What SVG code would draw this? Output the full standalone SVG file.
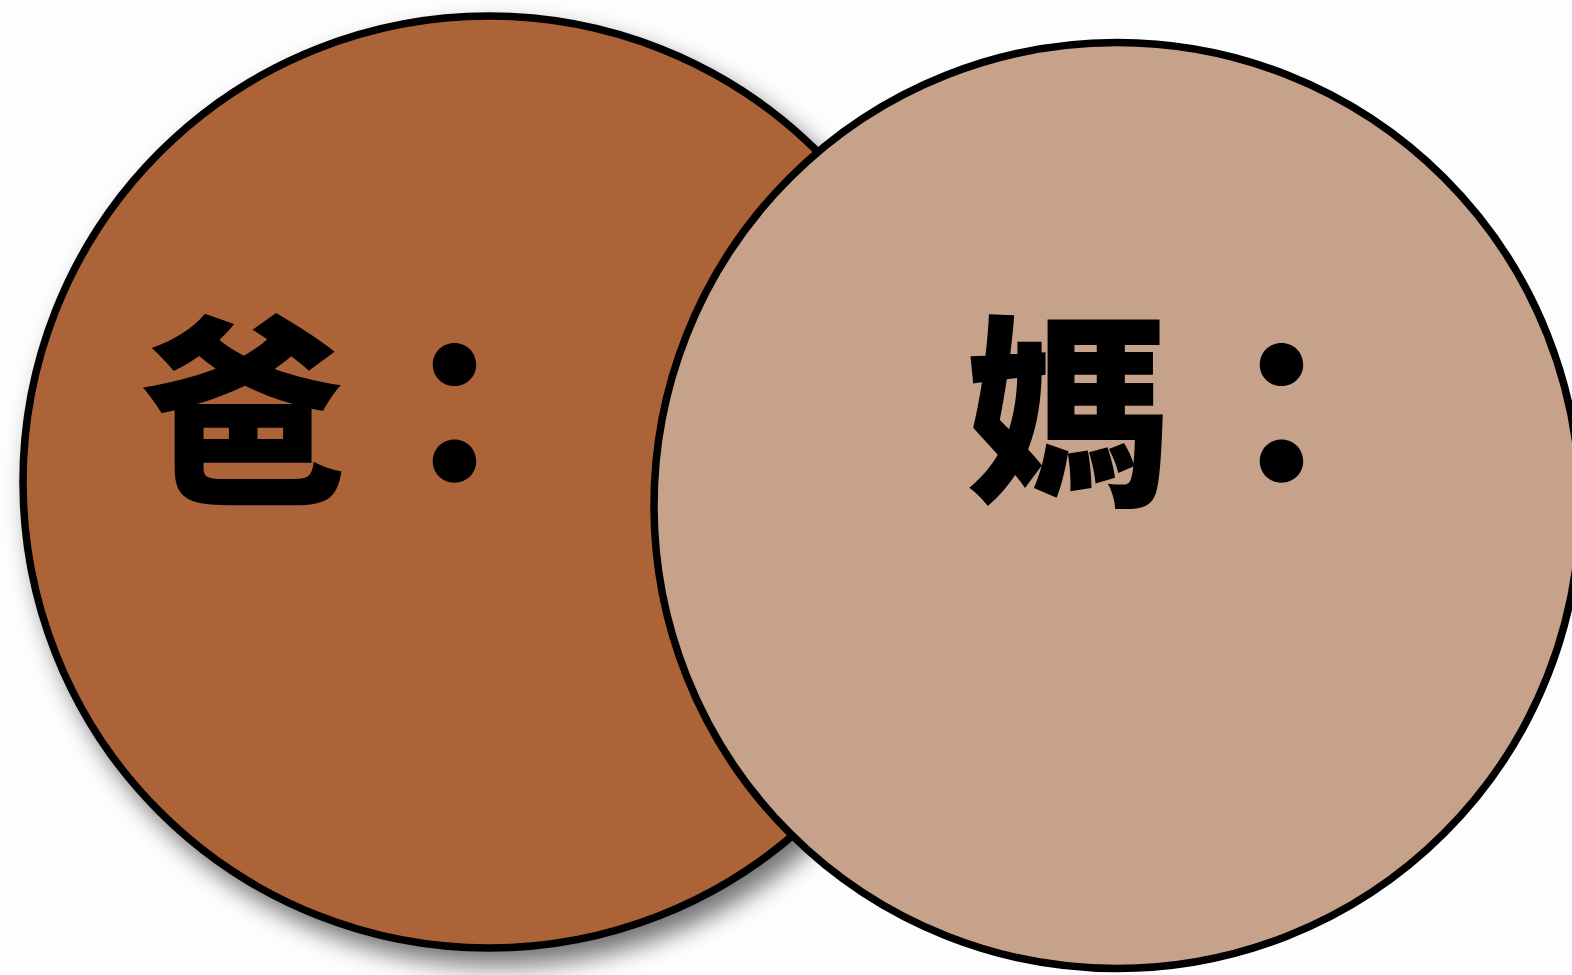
<svg xmlns="http://www.w3.org/2000/svg" width="1572" height="975" viewBox="0 0 1572 975">
<defs>
<filter id="shadow" x="-20%" y="-20%" width="140%" height="140%">
<feGaussianBlur in="SourceAlpha" stdDeviation="12"/>
<feOffset dx="10" dy="14" result="b"/>
<feComponentTransfer><feFuncA type="linear" slope="0.55"/></feComponentTransfer>
<feMerge><feMergeNode/><feMergeNode in="SourceGraphic"/></feMerge>
</filter>
<style>
.ring{stroke:#000;stroke-width:7.5}
.lbl{font-family:"Noto Sans CJK TC","Noto Sans CJK SC",sans-serif;font-weight:900;font-size:205px;fill:#000}
</style>
</defs>
<rect width="1572" height="975" fill="#fdfdfd"/>
<g id="dad">
<circle class="ring" cx="489" cy="482" r="466" fill="#ad6339" filter="url(#shadow)"/>
<text class="lbl" x="141" y="488" letter-spacing="6">爸：</text>
</g>
<g id="mom">
<circle class="ring" cx="1117" cy="505.5" r="463" fill="#c6a28b"/>
<text class="lbl" x="966" y="488" letter-spacing="8">媽：</text>
</g>
<g id="connectors"/>
</svg>
